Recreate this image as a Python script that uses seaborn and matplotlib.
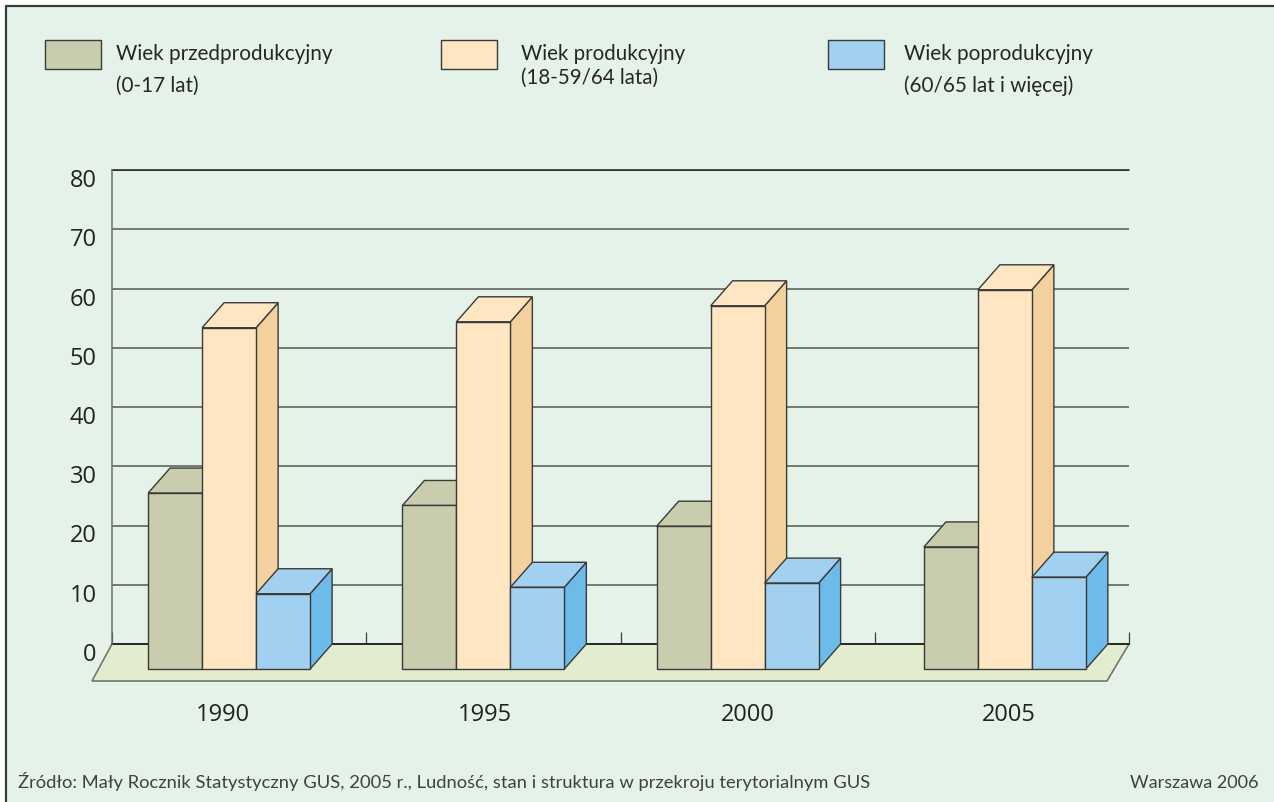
import numpy as np
import pandas as pd
import matplotlib
matplotlib.use('Agg')
import matplotlib.pyplot as plt
from matplotlib.patches import Polygon, Rectangle
from matplotlib.transforms import Affine2D
import seaborn as sns

# data
YEARS = ['1990', '1995', '2000', '2005']
GROUPS = ['Wiek przedprodukcyjny', 'Wiek produkcyjny', 'Wiek poprodukcyjny']
PRE_WORKING = [29.7, 27.6, 24.1, 20.6]
WORKING = [57.6, 58.6, 61.3, 64.0]
POST_WORKING = [12.7, 13.8, 14.5, 15.5]
Y_TICKS = [0, 10, 20, 30, 40, 50, 60, 70, 80]
SOURCE = 'Źródło: Mały Rocznik Statystyczny GUS, 2005 r., Ludność, stan i struktura w przekroju terytorialnym GUS'
PLACE = 'Warszawa 2006'

# colours: front, side
FRONT = ['#c9cdad', '#fee6c3', '#a1d0f1']
SIDE = ['#c9cdad', '#f2d19e', '#6dbbea']
TOP = ['#c9cdad', '#fee6c3', '#a1d0f1']
BG = '#e5f2ea'
FLOOR = '#e2edcf'
EDGE = '#3a3a38'
GRID = '#55574f'

# layout, in pixels of the 1274x803 picture
W, H = 1274, 803
AX_L, AX_R, AX_TOP, AX_BOT = 112, 1129, 171, 645
DEPTH_X, DEPTH_Y = 22, 25
GROUP_SHIFT = [-10, -10, -10, 3]
LABEL_SHIFT = [-16, -8, 0, 7]


def fx(px):
    return px / W


def fy(px):
    return 1 - px / H


sns.set_theme(style='white')
plt.rcParams['font.family'] = ['Open Sans', 'DejaVu Sans']

df = pd.DataFrame({
    'rok': YEARS * 3,
    'grupa': np.repeat(GROUPS, 4),
    'udzial': PRE_WORKING + WORKING + POST_WORKING,
})

fig = plt.figure(figsize=(W / 100, H / 100), dpi=100, facecolor='white')

# panel background with the frame on top and left only
fig.add_artist(Rectangle((fx(6), 0), 1 - fx(6), fy(6), transform=fig.transFigure,
                         facecolor=BG, edgecolor='none', zorder=-5))
fig.add_artist(plt.Line2D([fx(6), fx(6), 1], [0, fy(6.5), fy(6.5)], transform=fig.transFigure,
                          color='#3a3a3a', lw=1.6, zorder=-4))

ax = fig.add_axes([fx(AX_L), fy(AX_BOT), fx(AX_R - AX_L), (AX_BOT - AX_TOP) / H])
ax.patch.set_alpha(0)

sns.barplot(data=df, x='rok', y='udzial', hue='grupa', order=YEARS, hue_order=GROUPS,
            palette=FRONT, saturation=1, width=0.637, gap=0, legend=False,
            edgecolor=EDGE, linewidth=1.0, ax=ax)

ax.set_xlim(-0.5, 3.5)
ax.set_ylim(0, 80)
ax.set_xlabel('')
ax.set_ylabel('')

# depth of the boxes in data units
dx_data = DEPTH_X / ((AX_R - AX_L) / 4)
dy_data = DEPTH_Y / ((AX_BOT - AX_TOP) / 80)

# floor under the bars
ax.add_patch(Polygon([(-0.5, 0), (3.5, 0), (3.5 - 22 / 254.25, -37 / 5.925), (-0.5 - 20 / 254.25, -37 / 5.925)],
                     closed=True, facecolor=FLOOR, edgecolor='#74766c', lw=1.2,
                     clip_on=False, zorder=1))

# faces of the boxes
for i, container in enumerate(ax.containers):
    for j, bar in enumerate(container):
        shift = ax.transData + Affine2D().translate(GROUP_SHIFT[j], -DEPTH_Y)
        bar.set_transform(shift)
        bar.set_clip_on(False)
        bar.set_zorder(5 + i * 2 + 1)
        x0, x1 = bar.get_x(), bar.get_x() + bar.get_width()
        h = bar.get_height()
        side = [(x1, 0), (x1 + dx_data, dy_data), (x1 + dx_data, h + dy_data), (x1, h)]
        top = [(x0, h), (x1, h), (x1 + dx_data, h + dy_data), (x0 + dx_data, h + dy_data)]
        for verts, colour in ((side, SIDE[i]), (top, TOP[i])):
            ax.add_patch(Polygon(verts, closed=True, facecolor=colour, edgecolor=EDGE,
                                 lw=1.0, transform=shift, clip_on=False, zorder=5 + i * 2))

# grid and axes
ax.set_yticks(Y_TICKS)
ax.yaxis.grid(True, color=GRID, lw=1.1, zorder=0)
ax.set_axisbelow(True)
sns.despine(ax=ax, top=True, right=True, left=False, bottom=False)
ax.spines['left'].set_color('#6f706a')
ax.spines['left'].set_linewidth(1.1)
ax.spines['bottom'].set_color('#1c1c1c')
ax.spines['bottom'].set_linewidth(1.2)
ax.spines['bottom'].set_zorder(2)
ax.plot([-0.5, 3.5], [80, 80], color='#1c1c1c', lw=1.1, clip_on=False, zorder=1)

ax.tick_params(axis='y', length=0, pad=11, labelsize=17, labelcolor='#222222')
for label in ax.get_yticklabels():
    label.set_transform(label.get_transform() + Affine2D().translate(0, -7))

ax.set_xticks(range(4), YEARS)
ax.tick_params(axis='x', which='major', length=0, pad=42, labelsize=17, labelcolor='#222222')
for label, shift in zip(ax.get_xticklabels(), LABEL_SHIFT):
    label.set_transform(label.get_transform() + Affine2D().translate(shift, 0))
ax.set_xticks([-0.5, 0.5, 1.5, 2.5, 3.5], minor=True)
ax.tick_params(axis='x', which='minor', bottom=True, direction='in', length=8.5, width=0.9, color='#3c3c3c')

# legend
SWATCH_X = [45, 441, 828]
for x, colour in zip(SWATCH_X, FRONT):
    fig.add_artist(Rectangle((fx(x), fy(70)), 56 / W, 29 / H, transform=fig.transFigure,
                             facecolor=colour, edgecolor=EDGE, lw=1.0))

LATO = ['Lato', 'DejaVu Sans']
legend_text = [
    (116, 60, GROUPS[0], 14.9), (116, 92, '(0-17 lat)', 14.9),
    (521, 60, GROUPS[1], 14.8), (521, 84, '(18-59/64 lata)', 14.8),
    (904, 60, GROUPS[2], 14.9), (904, 92, '(60/65 lat i więcej)', 14.9),
]
for x, y, text, size in legend_text:
    fig.text(fx(x), fy(y), text, family=LATO, fontsize=size, color='#262626', va='baseline')

# footer
fig.text(fx(18), fy(788), SOURCE, family=LATO, fontsize=13.2, color='#404040', va='baseline')
fig.text(fx(1258), fy(788), PLACE, family=LATO, fontsize=13, color='#404040', va='baseline', ha='right')

fig.savefig('out.png', dpi=100)
